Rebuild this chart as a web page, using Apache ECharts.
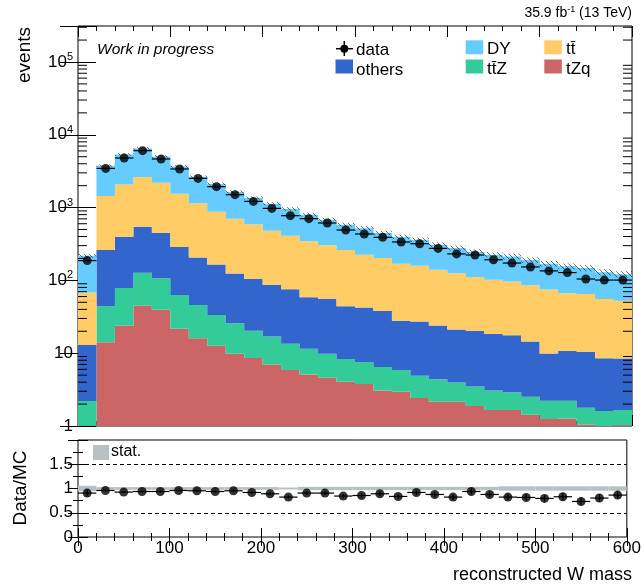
<!DOCTYPE html>
<html><head><meta charset="utf-8">
<script src="https://cdn.jsdelivr.net/npm/echarts@6/dist/echarts.min.js"></script>
<style>html,body{margin:0;padding:0;background:#fff}#c{width:644px;height:586px}</style>
</head><body><div id="c"></div>
<script>
// ---------------- data ----------------
const binLow = [0,20,40,60,80,100,120,140,160,180,200,220,240,260,280,300,320,340,360,380,400,420,440,460,480,500,520,540,560,580];
const binWidth = 20;
const tZq    = [0.4,14.1,23.9,44.9,39.6,21.7,16.0,12.7,9.8,8.6,7.0,5.9,5.1,4.6,4.06,3.78,3.08,2.96,2.42,2.16,2.16,1.88,1.66,1.66,1.43,1.25,1.27,1.05,0.9,1.02];
const ttZ    = [1.8,29.9,54.7,82.7,67,41.3,29.9,20.8,15.9,11.8,9.9,7.6,6.4,5.2,4.24,3.72,3.38,2.92,2.48,2.21,1.81,1.62,1.42,1.24,1.1,0.98,0.96,0.73,0.71,0.64];
const others = [10.8,218,319,419,345,225,161,132,99,84,70,62,47,46,36,35,31.5,22,22.4,19.7,17.2,16.7,15.3,14.7,12,7.7,8.5,8.7,6.9,6.8];
const ttbar  = [55,1181,1685,2083,1746,1264,936,713,579,485,395,336,285,248,218,183,165,142,132,116,104,90,84,79,71,65,56,54.5,47,44];
const DY     = [150,2319,3297,3870,2852,2128,1513,1231,934,766,650,546,455,379,320,293,245,228,203,169,154,136,123,117,105,95,90,83,74,69];
const dataCounts = [187,3455,4800,6050,4650,3390,2518,1937,1504,1217,975,774,704,614,492,434,390,337,319,275,231,223,192,173,153,135,128,104.5,101,101];
const mcHatch = [0.06,0.04,0.04,0.04,0.04,0.04,0.04,0.05,0.05,0.05,0.05,0.06,0.06,0.06,0.06,0.07,0.07,0.07,0.07,0.08,0.08,0.08,0.08,0.09,0.09,0.09,0.09,0.1,0.1,0.1];
const ratio    = [0.906,0.959,0.926,0.938,0.938,0.959,0.953,0.938,0.953,0.918,0.891,0.823,0.906,0.906,0.844,0.856,0.891,0.836,0.918,0.877,0.823,0.938,0.877,0.823,0.815,0.795,0.83,0.733,0.803,0.864];
const ratioErr = [0.07,0.02,0.02,0.02,0.02,0.02,0.02,0.025,0.03,0.03,0.035,0.035,0.04,0.04,0.045,0.045,0.05,0.05,0.05,0.055,0.06,0.06,0.06,0.065,0.07,0.07,0.075,0.08,0.08,0.08];
const statBand = [0.055,0.028,0.028,0.028,0.028,0.028,0.028,0.028,0.028,0.028,0.028,0.02,0.035,0.035,0.035,0.035,0.035,0.035,0.035,0.035,0.035,0.035,0.035,0.045,0.045,0.045,0.045,0.045,0.045,0.045];
const xTickLabels = ['0','100','200','300','400','500','600'];
const ratioTickLabels = ['0','0.5','1','1.5'];
const legendNames = ['data','others','DY','tt\u0304','tt\u0304Z','tZq'];

// ---------------- setup ----------------
const FONT = '"Liberation Sans", Arial, Helvetica, sans-serif';
const Y_MIN = 1, Y_MAX = 312000;
const colors = {tZq:'#CC6666', ttZ:'#33CC99', others:'#3366CC', ttbar:'#FFCC66', DY:'#66CCFF'};
const chart = echarts.init(document.getElementById('c'), null, {renderer:'canvas'});

const clampY = v => Math.min(Math.max(v, Y_MIN), Y_MAX);
const layers = [
  {vals:tZq, color:colors.tZq},
  {vals:ttZ, color:colors.ttZ},
  {vals:others, color:colors.others},
  {vals:ttbar, color:colors.ttbar},
  {vals:DY, color:colors.DY}
];
const series = [];
let cum = binLow.map(() => 0);
layers.forEach(L => {
  const base = cum.slice();
  const top = cum.map((c, i) => c + L.vals[i]);
  cum = top;
  series.push({
    type:'custom', xAxisIndex:0, yAxisIndex:0, silent:true, z:2,
    data: binLow.map((lo, i) => [lo, lo + binWidth, clampY(base[i]), clampY(top[i])]),
    renderItem: (params, api) => {
      if (params.dataIndex !== 0) return null;
      const pts = [];
      for (let i = 0; i < binLow.length; i++) {
        pts.push(api.coord([binLow[i], clampY(top[i])]));
        pts.push(api.coord([binLow[i] + binWidth, clampY(top[i])]));
      }
      for (let i = binLow.length - 1; i >= 0; i--) {
        pts.push(api.coord([binLow[i] + binWidth, clampY(base[i])]));
        pts.push(api.coord([binLow[i], clampY(base[i])]));
      }
      return {type:'polygon', shape:{points:pts}, style:{fill:L.color}};
    }
  });
});
const mcTotal = cum;

// hatch pattern
const pc = document.createElement('canvas'); pc.width = 5; pc.height = 5;
const pg = pc.getContext('2d'); pg.strokeStyle = 'rgba(20,20,20,0.75)'; pg.lineWidth = 0.8;
pg.beginPath(); pg.moveTo(0,0); pg.lineTo(5,5); pg.stroke();

series.push({
  type:'custom', xAxisIndex:0, yAxisIndex:0, silent:true, z:3,
  data: binLow.map((lo, i) => [lo, lo + binWidth, mcTotal[i] * (1 - mcHatch[i]), mcTotal[i] * (1 + mcHatch[i])]),
  renderItem: (params, api) => {
    const a = api.coord([api.value(0), api.value(3)]);
    const b = api.coord([api.value(1), api.value(2)]);
    return {type:'rect', shape:{x:a[0], y:a[1], width:b[0]-a[0], height:b[1]-a[1]}, style:{fill:{image:pc, repeat:'repeat'}}};
  }
});

// data error bars (horizontal)
series.push({
  type:'custom', xAxisIndex:0, yAxisIndex:0, silent:true, z:4,
  data: binLow.map((lo, i) => [lo, lo + binWidth, dataCounts[i]]),
  renderItem: (params, api) => {
    const a = api.coord([api.value(0), api.value(2)]);
    const b = api.coord([api.value(1), api.value(2)]);
    return {type:'line', shape:{x1:a[0], y1:a[1], x2:b[0], y2:b[1]}, style:{stroke:'#000', lineWidth:1.2}};
  }
});
series.push({
  type:'scatter', xAxisIndex:0, yAxisIndex:0, silent:true, z:5,
  symbol:'circle', symbolSize:9, itemStyle:{color:'#000'},
  data: binLow.map((lo, i) => [lo + binWidth / 2, dataCounts[i]])
});

// log minor ticks (left and right)
const minorVals = [];
for (let e = 0; e <= 5; e++) for (let m = 2; m <= 9; m++) { const v = m * Math.pow(10, e); if (v < Y_MAX) minorVals.push(v); }
series.push({
  type:'custom', xAxisIndex:0, yAxisIndex:0, silent:true, z:6,
  data: minorVals.map(v => [0, v]),
  renderItem: (params, api) => {
    const v = api.value(1);
    const l = api.coord([0, v]);
    const r = api.coord([600, v]);
    return {type:'group', children:[
      {type:'line', shape:{x1:l[0], y1:l[1], x2:l[0] + 9, y2:l[1]}, style:{stroke:'#000', lineWidth:1}},
      {type:'line', shape:{x1:r[0], y1:r[1], x2:r[0] - 9, y2:r[1]}, style:{stroke:'#000', lineWidth:1}}
    ]};
  }
});

// ratio panel: stat band
series.push({
  type:'custom', xAxisIndex:2, yAxisIndex:2, silent:true, z:2,
  data: binLow.map((lo, i) => [lo, lo + binWidth, 1 - statBand[i], 1 + statBand[i]]),
  renderItem: (params, api) => {
    const a = api.coord([api.value(0), api.value(3)]);
    const b = api.coord([api.value(1), api.value(2)]);
    return {type:'rect', shape:{x:a[0], y:a[1], width:b[0]-a[0], height:b[1]-a[1]}, style:{fill:'#B8C0C4'}};
  },
  markLine: {silent:true, symbol:'none', label:{show:false},
    lineStyle:{type:[4,3], color:'#000', width:1},
    data:[{yAxis:0.5},{yAxis:1.5}]}
});
series.push({
  type:'custom', xAxisIndex:2, yAxisIndex:2, silent:true, z:4,
  data: binLow.map((lo, i) => [lo, lo + binWidth, ratio[i], ratioErr[i]]),
  renderItem: (params, api) => {
    const lo = api.value(0), hi = api.value(1), r = api.value(2), e = api.value(3);
    const a = api.coord([lo, r]), b = api.coord([hi, r]);
    const c1 = api.coord([(lo + hi) / 2, r - e]), c2 = api.coord([(lo + hi) / 2, r + e]);
    return {type:'group', children:[
      {type:'line', shape:{x1:a[0], y1:a[1], x2:b[0], y2:b[1]}, style:{stroke:'#000', lineWidth:1.2}},
      {type:'line', shape:{x1:c1[0], y1:c1[1], x2:c2[0], y2:c2[1]}, style:{stroke:'#000', lineWidth:1.2}}
    ]};
  }
});
series.push({
  type:'scatter', xAxisIndex:2, yAxisIndex:2, silent:true, z:5,
  symbol:'circle', symbolSize:9, itemStyle:{color:'#000'},
  data: binLow.map((lo, i) => [lo + binWidth / 2, ratio[i]])
});

// ---------------- axes ----------------
const xBase = (grid, pos, labels) => ({
  type:'value', gridIndex:grid, position:pos, min:0, max:600, interval:100,
  axisLine:{show:false}, splitLine:{show:false},
  axisTick:{show:true, inside:true, length: grid === 0 ? 11 : 9, lineStyle:{color:'#000', width:1}},
  minorTick:{show:true, splitNumber:5, length: grid === 0 ? 5 : 4, lineStyle:{color:'#000', width:1}},
  axisLabel: labels ? {show:true, margin:3, color:'#000', fontSize:17, fontFamily:FONT,
      formatter: v => xTickLabels[Math.round(v / 100)] || ''} : {show:false}
});
function logLabel(v) {
  const e = Math.round(Math.log10(v));
  if (Math.abs(v - Math.pow(10, e)) / v > 1e-6) return '';
  if (e === 0) return '1';
  if (e === 1) return '10';
  return '10{sup|' + e + '}';
}
const yLog = (pos, labels) => ({
  type:'log', gridIndex:0, position:pos, logBase:10, min:Y_MIN, max:Y_MAX,
  axisLine:{show:false}, splitLine:{show:false}, minorTick:{show:false},
  axisTick:{show:true, inside:true, length:18, lineStyle:{color:'#000', width:1}},
  axisLabel: labels ? {show:true, margin:5, color:'#000', fontSize:17, fontFamily:FONT, formatter:logLabel,
      rich:{sup:{fontSize:11, fontFamily:FONT, color:'#000', verticalAlign:'bottom', padding:[0,0,10,0]}}} : {show:false}
});
const yRatio = (pos, labels) => ({
  type:'value', gridIndex:1, position:pos, min:0, max:2, interval:0.5,
  axisLine:{show:false}, splitLine:{show:false},
  axisTick:{show:true, inside:true, length:10, lineStyle:{color:'#000', width:1}},
  minorTick:{show:true, splitNumber:2, length:5, lineStyle:{color:'#000', width:1}},
  axisLabel: labels ? {show:true, margin:5, color:'#000', fontSize:17, fontFamily:FONT,
      formatter: v => ratioTickLabels[Math.round(v / 0.5)] || ''} : {show:false}
});

// ---------------- text & legend ----------------
const txt = (x, y, text, opt) => Object.assign({type:'text', x:x, y:y, silent:true,
  style: Object.assign({text:text, fill:'#000', fontFamily:FONT, fontSize:17}, opt || {})});
const box = (x, y, c) => ({type:'rect', silent:true, shape:{x:x, y:y, width:17.5, height:14}, style:{fill:c}});
const graphic = [
  txt(632, 13, '35.9 fb{sup|-1} (13 TeV)', {fontSize:14, align:'right', verticalAlign:'middle',
      rich:{sup:{fontSize:9, fontFamily:FONT, fill:'#000', verticalAlign:'bottom', padding:[0,0,7,0]}}}),
  Object.assign(txt(25, 27, 'events', {fontSize:19, align:'right', verticalAlign:'middle'}), {rotation:Math.PI/2}),
  Object.assign(txt(21, 488, 'Data/MC', {fontSize:19, align:'center', verticalAlign:'middle'}), {rotation:Math.PI/2}),
  txt(632, 575, 'reconstructed W mass', {fontSize:18, align:'right', verticalAlign:'middle'}),
  txt(97, 50, 'Work in progress', {fontSize:15.5, fontStyle:'italic', verticalAlign:'middle'}),
  // data marker
  {type:'line', silent:true, shape:{x1:336, y1:48.7, x2:353, y2:48.7}, style:{stroke:'#000', lineWidth:1.5}},
  {type:'line', silent:true, shape:{x1:344.3, y1:41, x2:344.3, y2:56}, style:{stroke:'#000', lineWidth:1.5}},
  {type:'circle', silent:true, shape:{cx:344.3, cy:48.7, r:4}, style:{fill:'#000'}},
  txt(356, 50, legendNames[0], {verticalAlign:'middle'}),
  box(335.5, 59.5, colors.others), txt(356, 70, legendNames[1], {verticalAlign:'middle'}),
  box(465.7, 40.3, colors.DY), txt(487, 49, legendNames[2], {verticalAlign:'middle'}),
  box(544.3, 40.3, colors.ttbar), txt(566, 49, legendNames[3], {verticalAlign:'middle'}),
  box(465.7, 59.5, colors.ttZ), txt(487, 69, legendNames[4], {verticalAlign:'middle'}),
  box(544.3, 59.5, colors.tZq), txt(566, 69, legendNames[5], {verticalAlign:'middle'}),
  // ratio legend
  {type:'rect', silent:true, shape:{x:93, y:445, width:16, height:15}, style:{fill:'#B8C0C4'}},
  txt(111, 452, 'stat.', {fontSize:16, verticalAlign:'middle'})
];

chart.setOption({
  animation:false,
  backgroundColor:'#fff',
  grid:[
    {left:78, top:26, width:554, height:400, show:true, borderColor:'#000', borderWidth:1, backgroundColor:'transparent'},
    {left:78, top:440, width:554, height:97, show:true, borderColor:'#000', borderWidth:1, backgroundColor:'transparent'}
  ],
  xAxis:[xBase(0,'bottom',false), xBase(0,'top',false), xBase(1,'bottom',true), xBase(1,'top',false)],
  yAxis:[yLog('left',true), yLog('right',false), yRatio('left',true), yRatio('right',false)],
  series: series,
  graphic: graphic
});
</script></body></html>
